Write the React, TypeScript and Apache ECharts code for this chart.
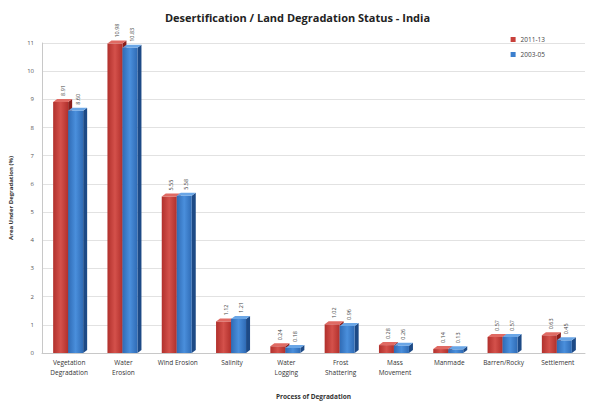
import React, { useEffect, useRef } from "react";
import * as echarts from "echarts";

const categories = [
  "Vegetation\nDegradation",
  "Water\nErosion",
  "Wind Erosion",
  "Salinity",
  "Water\nLogging",
  "Frost\nShattering",
  "Mass\nMovement",
  "Manmade",
  "Barren/Rocky",
  "Settlement",
];
const values2011 = [8.91, 10.98, 5.55, 1.12, 0.24, 1.02, 0.28, 0.14, 0.57, 0.63];
const values2003 = [8.6, 10.83, 5.58, 1.21, 0.18, 0.96, 0.26, 0.13, 0.57, 0.45];
const seriesNames = ["2011-13", "2003-05"];

const FONT = "'Open Sans', 'Noto Sans', sans-serif";

// Pseudo-3D column: front face, right side and top cap.
function makeRenderer(offset: number, front: [string, string], side: string, topFill: string) {
  return (params: any, api: any) => {
    const cat = api.value(0);
    const val = api.value(1);
    const top = api.coord([cat, val]);
    const base = api.coord([cat, 0]);
    const w = 15;
    const d = 4;
    const r = 3;
    const x0 = top[0] + offset;
    const yT = top[1];
    const yB = base[1];
    return {
      type: "group",
      children: [
        {
          type: "polygon",
          shape: {
            points: [
              [x0 + w, yT],
              [x0 + w + d, yT - r],
              [x0 + w + d, yB - r],
              [x0 + w, yB],
            ],
          },
          style: { fill: side },
        },
        {
          type: "rect",
          shape: { x: x0, y: yT, width: w, height: yB - yT },
          style: {
            fill: new echarts.graphic.LinearGradient(0, 0, 1, 0, [
              { offset: 0, color: front[0] },
              { offset: 0.5, color: front[1] },
              { offset: 1, color: front[0] },
            ]),
          },
        },
        {
          type: "polygon",
          shape: {
            points: [
              [x0, yT],
              [x0 + d, yT - r],
              [x0 + w + d, yT - r],
              [x0 + w, yT],
            ],
          },
          style: { fill: topFill },
        },
        {
          type: "text",
          x: x0 + w / 2 + 2,
          y: yT - 6,
          rotation: Math.PI / 2,
          style: {
            text: val.toFixed(2),
            fontSize: 5.5,
            fontFamily: FONT,
            fill: "#444",
            align: "left",
            verticalAlign: "middle",
          },
        },
      ],
    };
  };
}

export default function App() {
  const ref = useRef<HTMLDivElement>(null);

  useEffect(() => {
    if (!ref.current) return;
    const chart = echarts.init(ref.current, undefined, { renderer: "svg" });
    chart.setOption({
      animation: false,
      backgroundColor: "#ffffff",
      textStyle: { fontFamily: FONT },
      title: {
        text: "Desertification / Land Degradation Status - India",
        left: "center",
        top: 7,
        textStyle: { fontSize: 11, fontWeight: "bold", color: "#222", fontFamily: FONT },
      },
      legend: {
        orient: "vertical",
        right: 45,
        top: 31,
        itemWidth: 5,
        itemHeight: 5,
        itemGap: 8,
        icon: "rect",
        textStyle: { fontSize: 6.5, color: "#444", fontFamily: FONT },
        data: seriesNames,
      },
      grid: { left: 41, right: 10, top: 43, bottom: 52 },
      xAxis: {
        type: "category",
        data: categories,
        axisTick: { show: false },
        axisLine: { lineStyle: { color: "#c8c8c8" } },
        axisLabel: {
          interval: 0,
          fontSize: 6.5,
          color: "#333",
          lineHeight: 10,
          margin: 4,
          fontFamily: FONT,
        },
        name: "Process of Degradation",
        nameLocation: "middle",
        nameGap: 40,
        nameTextStyle: { fontSize: 6.5, fontWeight: "bold", color: "#333", fontFamily: FONT },
      },
      yAxis: {
        type: "value",
        min: 0,
        max: 11,
        interval: 1,
        axisLine: { show: true, lineStyle: { color: "#c8c8c8" } },
        axisTick: { show: false },
        axisLabel: { fontSize: 6, color: "#555", margin: 8, fontFamily: FONT },
        splitLine: { lineStyle: { color: "#e2e2e2" } },
        name: "Area Under Degradation (%)",
        nameLocation: "middle",
        nameGap: 28,
        nameTextStyle: { fontSize: 6, fontWeight: "bold", color: "#333", fontFamily: FONT },
      },
      series: [
        {
          name: seriesNames[0],
          type: "custom",
          itemStyle: { color: "#c8403b" },
          encode: { x: 0, y: 1 },
          data: values2011.map((v, i) => [i, v]),
          renderItem: makeRenderer(-16, ["#b1302c", "#d4514b"], "#8a1f1c", "#e06a63"),
        },
        {
          name: seriesNames[1],
          type: "custom",
          itemStyle: { color: "#3b7fce" },
          encode: { x: 0, y: 1 },
          data: values2003.map((v, i) => [i, v]),
          renderItem: makeRenderer(-1, ["#2f6bb5", "#4a8fdc"], "#1d4a86", "#6aa6e6"),
        },
      ],
    });
    return () => chart.dispose();
  }, []);

  return (
    <div
      ref={ref}
      style={{ position: "fixed", left: 0, top: 0, width: 595, height: 405 }}
    />
  );
}
